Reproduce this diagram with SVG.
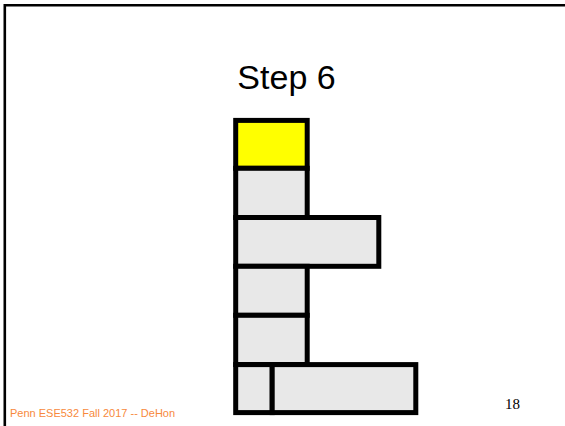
<svg xmlns="http://www.w3.org/2000/svg" width="565" height="426" viewBox="0 0 565 426">
<style>
.box{fill:#e8e8e8;stroke:#000;stroke-width:5}
.hl{fill:#ffff00}
.title{font-family:"Liberation Sans",Arial,sans-serif;font-size:34px;fill:#000}
.foot{font-family:"Liberation Sans",Arial,sans-serif;font-size:11px;fill:#f7893c}
.num{font-family:"Liberation Serif","Times New Roman",serif;font-size:15px;fill:#000}
</style>
<rect width="565" height="426" fill="#fff"/>
<g id="frame">
<path d="M4.8 426 V5.2 H565" fill="none" stroke="#000" stroke-width="2.6"/>
</g>
<text class="title" x="286.5" y="88.5" text-anchor="middle">Step 6</text>
<g id="connectors"></g>
<g id="box1"><rect class="box hl" x="235.7" y="120.4" width="71.5" height="47.9"/></g>
<g id="box2"><rect class="box" x="235.7" y="168.3" width="71.5" height="49.2"/></g>
<g id="box3"><rect class="box" x="235.7" y="217.5" width="143.1" height="48.8"/></g>
<g id="box4"><rect class="box" x="235.7" y="266.3" width="71.5" height="49"/></g>
<g id="box5"><rect class="box" x="235.7" y="315.3" width="71.5" height="49.2"/></g>
<g id="box6a"><rect class="box" x="235.7" y="364.6" width="36.5" height="48"/></g>
<g id="box6b"><rect class="box" x="272.2" y="364.6" width="143.6" height="48"/></g>
<text class="foot" x="10" y="416.5">Penn ESE532 Fall 2017 -- DeHon</text>
<text class="num" x="505" y="408.5">18</text>
</svg>
